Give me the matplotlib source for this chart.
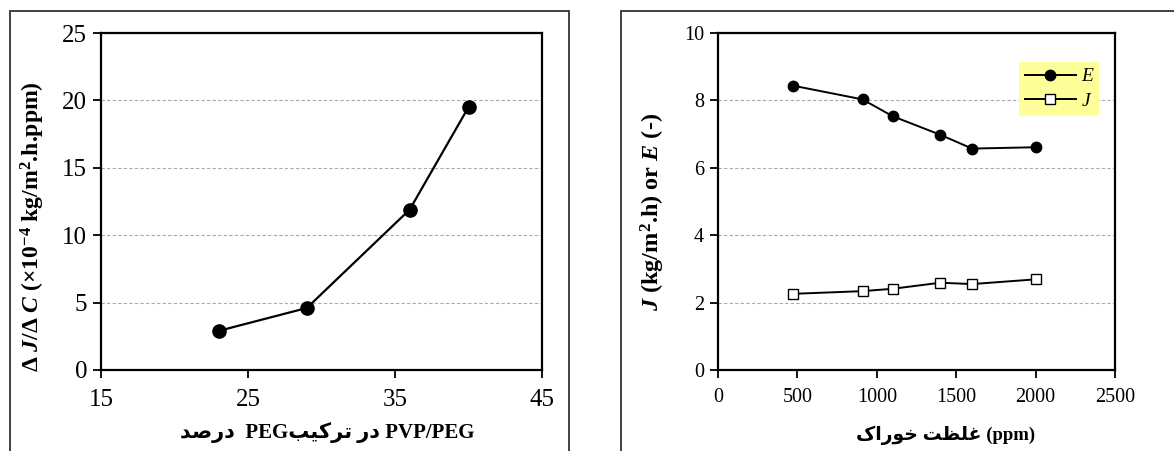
import matplotlib
matplotlib.use("Agg")
import matplotlib.pyplot as plt
from matplotlib.patches import Rectangle

# left panel: PEG content vs dJ/dC
peg_percent = [23, 29, 36, 40]
dj_dc = [2.9, 4.6, 11.9, 19.5]

# right panel: feed concentration vs E and J
feed_ppm = [470, 910, 1100, 1400, 1600, 2000]
e_values = [8.44, 8.03, 7.53, 6.98, 6.57, 6.61]
j_values = [2.26, 2.34, 2.41, 2.59, 2.55, 2.69]

# persian labels written in visual (left to right) order with joined glyph forms
w_darsad = "\uFEAA\uFEBB\uFEAD\uFEA9"
w_dar = "\uFEAD\uFEA9"
w_tarkib = "\uFE90\uFBFF\uFB90\uFEAE\uFE97"
w_ghelzat = "\uFE96\uFEC8\uFEE0\uFECF"
w_khorak = "\uFB8E\uFE8D\uFEAD\uFEEE\uFEA7"
# right-to-left runs: the later word sits on the left
left_xlabel = w_darsad + "  PEG" + w_tarkib + " " + w_dar + " PVP/PEG"
right_xlabel = w_khorak + " " + w_ghelzat + " (ppm)"

plt.rcParams["font.family"] = ["Liberation Serif", "DejaVu Sans"]
plt.rcParams["mathtext.fontset"] = "custom"
plt.rcParams["mathtext.rm"] = "Liberation Serif:bold"
plt.rcParams["mathtext.it"] = "Liberation Serif:italic:bold"
plt.rcParams["mathtext.bf"] = "Liberation Serif:bold"

fig = plt.figure(figsize=(11.74, 4.51), dpi=100)
W, H = 1174, 451

# outer frames around each panel
fig.patches.append(Rectangle((10 / W, -0.1), 559 / W, 1 - 11 / H + 0.1,
                             transform=fig.transFigure, fill=False,
                             edgecolor="#333333", lw=1.3))
fig.patches.append(Rectangle((621 / W, -0.1), 0.6, 1 - 11 / H + 0.1,
                             transform=fig.transFigure, fill=False,
                             edgecolor="#333333", lw=1.3))

ax1 = fig.add_axes([101 / W, 1 - 370 / H, 441 / W, 337 / H])
ax2 = fig.add_axes([718 / W, 1 - 370 / H, 397 / W, 337 / H])


def style_axes(ax, size, xpad):
    for s in ax.spines.values():
        s.set_linewidth(1.6)
        s.set_color("black")
    ax.tick_params(direction="out", length=6, width=1.3, labelsize=size)
    ax.tick_params(axis="x", pad=xpad)
    ax.tick_params(axis="y", pad=4)
    ax.yaxis.grid(True, color="#aaaaaa", lw=0.8, ls=(0, (3, 2)))
    ax.set_axisbelow(True)


# left chart
ax1.plot(peg_percent, dj_dc, color="black", lw=1.6, marker="o",
         markersize=9.5, markerfacecolor="black")
ax1.set_xlim(15, 45)
ax1.set_ylim(0, 25)
ax1.set_xticks([15, 25, 35, 45])
ax1.set_yticks([0, 5, 10, 15, 20, 25])
style_axes(ax1, 18, 8)
ax1.set_xlabel(left_xlabel, fontsize=15, fontweight="bold")
ax1.xaxis.set_label_coords(0.512, -0.187)
ax1.xaxis.label.set_va("center")
ax1.set_ylabel("Δ $J$/Δ $C$ (×10$^{-4}$ kg/m$^{2}$.h.ppm)",
               fontsize=17, fontweight="bold")
ax1.yaxis.set_label_coords(-0.154, 0.424)
ax1.yaxis.label.set_va("center")

# right chart
ax2.plot(feed_ppm, e_values, color="black", lw=1.4, marker="o",
         markersize=7.5, markerfacecolor="black", label="E")
ax2.plot(feed_ppm, j_values, color="black", lw=1.4, marker="s",
         markersize=7, markerfacecolor="white", markeredgewidth=1.0, label="J")
ax2.set_xlim(0, 2500)
ax2.set_ylim(0, 10)
ax2.set_xticks([0, 500, 1000, 1500, 2000, 2500])
ax2.set_yticks([0, 2, 4, 6, 8, 10])
style_axes(ax2, 14.5, 7)
ax2.set_xlabel(right_xlabel, fontsize=13.5, fontweight="bold")
ax2.xaxis.set_label_coords(0.572, -0.193)
ax2.xaxis.label.set_va("center")
ax2.set_ylabel("$J$ (kg/m$^{2}$.h) or $E$ (-)", fontsize=17.5, fontweight="bold")
ax2.yaxis.set_label_coords(-0.164, 0.469)
ax2.yaxis.label.set_va("center")

leg = ax2.legend(loc="upper right", bbox_to_anchor=(0.96, 0.914),
                 borderaxespad=0, frameon=True, fancybox=False,
                 facecolor="#FFFF99", edgecolor="none", framealpha=1,
                 handlelength=2.6, borderpad=0.3, labelspacing=0.35,
                 handletextpad=0.3, prop={"style": "italic", "size": 14})

fig.savefig("out.png", dpi=100)
